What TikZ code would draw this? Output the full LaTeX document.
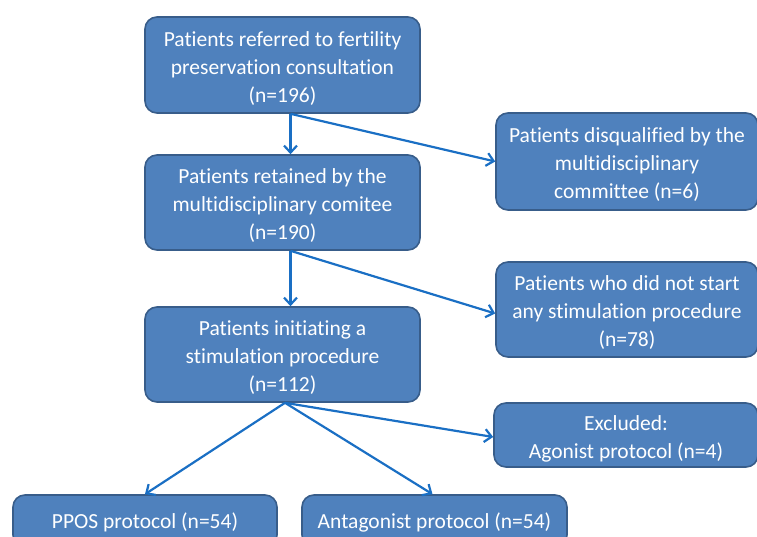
\documentclass[tikz,border=0pt]{standalone}
\usepackage{fontspec}
\setmainfont[Ligatures=NoCommon]{Carlito}
\usetikzlibrary{arrows.meta}
\definecolor{boxfill}{HTML}{4F81BD}
\definecolor{boxline}{HTML}{385D8A}
\definecolor{arrowc}{HTML}{1A6FC4}
\tikzset{
  flowbox/.style={draw=boxline, line width=1.6pt, fill=boxfill, rounded corners=12pt, inner sep=0pt},
  boxtext/.style={text=white, align=center, font=\fontsize{21.5}{28}\selectfont, inner sep=0pt, yshift=-3.5pt},
  flowarrow/.style={draw=arrowc, line width=2.2pt, -{Straight Barb[length=7pt,width=13pt,line width=2.2pt]}}
}
\begin{document}
\begin{tikzpicture}[x=1pt,y=-1pt]
\useasboundingbox (0,0) rectangle (757,537);
\clip (0,0) rectangle (757,537);
\node[flowbox, minimum width=275pt, minimum height=96pt, label={[boxtext]center:{Patients referred to fertility\\preservation consultation\\(n=196)}}] (b1) at (282.5,65) {};
\node[flowbox, minimum width=275pt, minimum height=95pt, label={[boxtext]center:{Patients retained by the\\multidisciplinary comitee\\(n=190)}}] (b2) at (282.5,202.5) {};
\node[flowbox, minimum width=275pt, minimum height=95pt, label={[boxtext]center:{Patients initiating a\\stimulation procedure\\(n=112)}}] (b3) at (282.5,354.5) {};
\node[flowbox, minimum width=262pt, minimum height=97pt, label={[boxtext]center:{Patients disqualified by the\\multidisciplinary\\committee (n=6)}}] (r1) at (627,161.5) {};
\node[flowbox, minimum width=262pt, minimum height=95pt, label={[boxtext]center:{Patients who did not start\\any stimulation procedure\\(n=78)}}] (r2) at (627,309.5) {};
\node[flowbox, minimum width=264pt, minimum height=64pt, label={[boxtext]center:{Excluded:\\Agonist protocol (n=4)}}] (r3) at (626,435) {};
\node[flowbox, minimum width=264pt, minimum height=52pt, label={[boxtext, yshift=2.5pt]center:{PPOS protocol (n=54)}}] (p1) at (145,521) {};
\node[flowbox, minimum width=265pt, minimum height=52pt, label={[boxtext, yshift=2.5pt]center:{Antagonist protocol (n=54)}}] (p2) at (434.5,521) {};
\coordinate (s1) at ([xshift=8pt]b1.south);
\coordinate (s2) at ([xshift=8pt]b2.south);
\coordinate (s3) at ([xshift=2.5pt]b3.south);
\draw[flowarrow] (s1) -- (b2.north -| s1);
\draw[flowarrow] (s1) -- (r1.west);
\draw[flowarrow] (s2) -- (b3.north -| s2);
\draw[flowarrow] (s2) -- ([yshift=-4pt]r2.west);
\draw[flowarrow] (s3) -- ([yshift=-2pt]r3.west);
\draw[flowarrow] (s3) -- ([xshift=-2pt]p2.north);
\draw[flowarrow] (s3) -- (p1.north);
\end{tikzpicture}
\end{document}
